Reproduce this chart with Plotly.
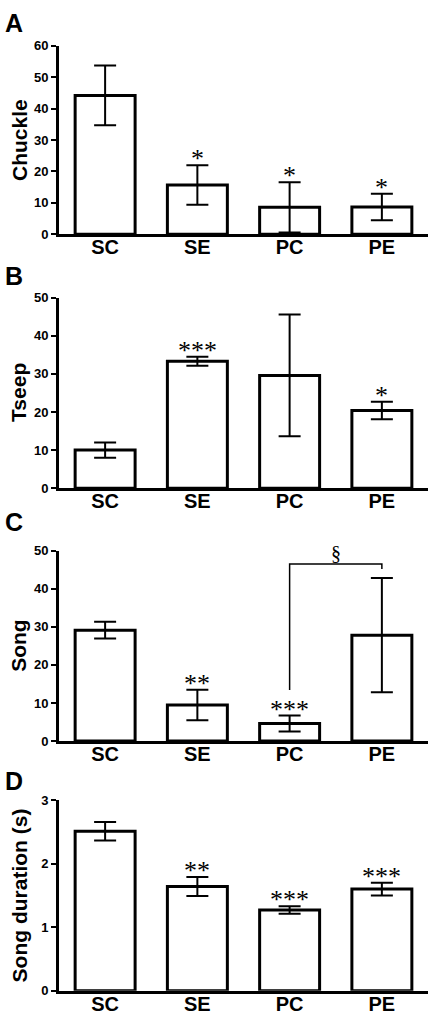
import plotly.graph_objects as go

categories = ["SC", "SE", "PC", "PE"]

chuckle_mean = [44.2, 15.7, 8.6, 8.7]
chuckle_err = [9.5, 6.3, 8.0, 4.2]

tseep_mean = [10.0, 33.3, 29.6, 20.4]
tseep_err = [2.0, 1.2, 16.0, 2.3]

song_mean = [29.1, 9.5, 4.6, 27.8]
song_err = [2.2, 4.0, 2.1, 15.0]

dur_mean = [2.51, 1.64, 1.27, 1.60]
dur_err = [0.145, 0.15, 0.06, 0.10]

chuckle_sig = ["", "*", "*", "*"]
tseep_sig = ["", "***", "", "*"]
song_sig = ["", "**", "***", ""]
dur_sig = ["", "**", "***", "***"]

panels = [
    ("A", "Chuckle", chuckle_mean, chuckle_err, chuckle_sig, [0, 60], 10),
    ("B", "Tseep", tseep_mean, tseep_err, tseep_sig, [0, 50], 10),
    ("C", "Song", song_mean, song_err, song_sig, [0, 50], 10),
    ("D", "Song duration (s)", dur_mean, dur_err, dur_sig, [0, 3], 1),
]

W, H = 434, 1024
# pixel extents of each panel's plot area (top, bottom)
y_px = [(39.3, 230.7), (295, 488.3), (551.7, 745), (805, 998.3)]
x_px = (59, 428)
letter_y = [16.5, 273, 523, 785]

SANS = "Liberation Sans, Arial, sans-serif"
SERIF = "Liberation Serif, Times New Roman, serif"

fig = go.Figure()
annotations = []
shapes = []

for i, (letter, title, mean, err, sig, yr, dt) in enumerate(panels):
    n = i + 1
    xa = "x" if n == 1 else f"x{n}"
    ya = "y" if n == 1 else f"y{n}"
    fig.add_trace(go.Bar(
        x=categories, y=mean,
        xaxis=xa, yaxis=ya,
        width=0.65,
        marker=dict(color="white", line=dict(color="black", width=3)),
        error_y=dict(type="data", array=err, visible=True,
                     color="black", thickness=2, width=11),
        showlegend=False, hoverinfo="skip",
    ))
    top, bot = y_px[i]
    dom_y = [1 - bot / H, 1 - top / H]
    dom_x = [x_px[0] / W, x_px[1] / W]
    axis_common = dict(showgrid=False, zeroline=False, showline=True,
                       linecolor="black", linewidth=3)
    fig.layout[f"xaxis{'' if n == 1 else n}"] = dict(
        domain=dom_x, anchor=ya, range=[-0.5, 3.5], type="category",
        ticks="", ticklabelstandoff=-7,
        tickfont=dict(family=SANS, size=20, color="black", weight="bold"),
        **axis_common)
    fig.layout[f"yaxis{'' if n == 1 else n}"] = dict(
        domain=dom_y, anchor=xa, range=yr, dtick=dt, tick0=0,
        ticks="outside", ticklen=5, tickwidth=2, tickcolor="black",
        tickfont=dict(family=SANS, size=13, color="black", weight="bold"),
        **axis_common)
    # panel letter
    annotations.append(dict(
        text=letter, xref="paper", yref="paper", x=3 / W, y=1 - letter_y[i] / H,
        xanchor="left", yanchor="middle", showarrow=False,
        font=dict(family=SANS, size=25, color="black", weight="bold")))
    # y title
    annotations.append(dict(
        text=title, xref="paper", yref="paper", x=19 / W,
        y=(dom_y[0] + dom_y[1]) / 2, textangle=-90,
        xanchor="center", yanchor="middle", showarrow=False,
        font=dict(family=SANS, size=21, color="black", weight="bold")))
    # significance markers
    for c, m, e, s in zip(categories, mean, err, sig):
        if s:
            annotations.append(dict(
                text=s, x=c, y=m + e, xref=xa, yref=ya,
                xanchor="center", yanchor="bottom", yshift=-10, showarrow=False,
                font=dict(family=SERIF, size=26, color="black")))

# bracket in panel C between PC and PE
shapes.append(dict(
    type="path", xref="x3", yref="y3",
    path="M 2,13.4 L 2,46.5 L 3,46.5 L 3,45.2",
    line=dict(color="black", width=1.5)))
annotations.append(dict(
    text="§", x=2.5, y=46.5, xref="x3", yref="y3",
    xanchor="center", yanchor="bottom", yshift=-2, showarrow=False,
    font=dict(family=SERIF, size=20, color="black")))

fig.update_layout(
    width=W, height=H,
    margin=dict(l=0, r=0, t=0, b=0),
    paper_bgcolor="white", plot_bgcolor="white",
    annotations=annotations, shapes=shapes,
    bargap=0.35, hovermode=False,
)

fig.write_html("out.html",
               config={"displayModeBar": False, "staticPlot": True},
               post_script="document.body.style.margin='0';"
                           "document.body.style.overflow='hidden';")
